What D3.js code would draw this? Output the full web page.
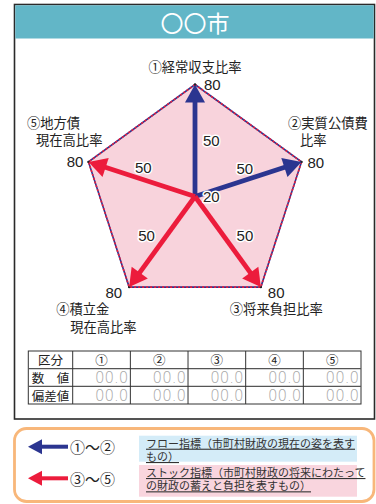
<!DOCTYPE html>
<html>
<head>
<meta charset="utf-8">
<script src="https://cdn.jsdelivr.net/npm/d3@7"></script>
<style>
  body { margin: 0; background: #fff; }
  svg { display: block; }
</style>
</head>
<body>
<div id="chart"></div>
<script>
// chart values
var title = "〇〇市";
var axisLabels = [
    ["①経常収支比率"],
    ["②実質公債費", "比率"],
    ["③将来負担比率"],
    ["④積立金", "現在高比率"],
    ["⑤地方債", "現在高比率"]
];
var values = [80, 80, 80, 80, 80];
var groups = ["flow", "flow", "stock", "stock", "stock"];
var tickValues = [20, 50, 80];

var tableHeader = ["区分", "①", "②", "③", "④", "⑤"];
var tableRowNames = ["数　値", "偏差値"];
var tableRows = [
    ["00.0", "00.0", "00.0", "00.0", "00.0"],
    ["00.0", "00.0", "00.0", "00.0", "00.0"]
];

var legendKeys = ["①～②", "③～⑤"];
var legendTexts = [
    ["フロー指標（市町村財政の現在の姿を表す", "もの）"],
    ["ストック指標（市町村財政の将来にわたって", "の財政の蓄えと負担を表すもの）"]
];

var colors = { flow: "#2b3590", stock: "#ec1c3c" };
var jp = "'Noto Sans CJK JP', 'Noto Sans', sans-serif";
var num = "'Liberation Sans', Arial, sans-serif";

var width = 376, height = 504;
var svg = d3.select("#chart").append("svg")
    .attr("width", width)
    .attr("height", height);

// frame + header
svg.append("rect")
    .attr("x", 14.5).attr("y", 4.5)
    .attr("width", 360).attr("height", 414.5)
    .attr("fill", "#fff")
    .attr("stroke", "#2a2a2a")
    .attr("stroke-width", 1.6);

svg.append("rect")
    .attr("x", 15.3).attr("y", 5.3)
    .attr("width", 358.4).attr("height", 33.2)
    .attr("fill", "#62b6c7");

svg.append("text")
    .attr("x", 195).attr("y", 22)
    .attr("text-anchor", "middle")
    .attr("dominant-baseline", "central")
    .attr("fill", "#fff")
    .style("font-family", jp)
    .style("font-size", "23px")
    .text(title);

// radar
var cx = 195, cy = 196.5;
var r = d3.scaleLinear().domain([20, 80]).range([0, 112]);
var angle = d3.scaleLinear().domain([0, values.length]).range([0, 2 * Math.PI]);

function pt(i, v) {
    var a = angle(i);
    return [cx + r(v) * Math.sin(a), cy - r(v) * Math.cos(a)];
}

var g = svg.append("g");

var radial = d3.lineRadial()
    .angle(function (d, i) { return angle(i); })
    .radius(function (d) { return r(d); })
    .curve(d3.curveLinearClosed);

g.append("path")
    .attr("transform", "translate(" + cx + "," + cy + ")")
    .attr("d", radial(values))
    .attr("fill", "#f8d3dc")
    .attr("stroke", "#2b3590")
    .attr("stroke-width", 1.6);

g.append("path")
    .attr("transform", "translate(" + cx + "," + cy + ")")
    .attr("d", radial(values))
    .attr("fill", "none")
    .attr("stroke", "#ec1c3c")
    .attr("stroke-width", 1.6)
    .attr("stroke-dasharray", "2,2");

// small tick marks at 50 and 80
values.forEach(function (v, i) {
    tickValues.slice(1).forEach(function (t) {
        var p = pt(i, t);
        g.append("circle")
            .attr("cx", p[0]).attr("cy", p[1])
            .attr("r", 1.2)
            .attr("fill", "#222");
    });
});

// arrows
function arrow(sel, x0, y0, x1, y1, color, sw, hl, hw) {
    var dx = x1 - x0, dy = y1 - y0;
    var len = Math.sqrt(dx * dx + dy * dy);
    var ux = dx / len, uy = dy / len;
    var bx = x1 - ux * hl, by = y1 - uy * hl;
    sel.append("line")
        .attr("x1", x0).attr("y1", y0)
        .attr("x2", bx + ux * 2).attr("y2", by + uy * 2)
        .attr("stroke", color)
        .attr("stroke-width", sw);
    sel.append("path")
        .attr("d", "M" + x1 + "," + y1 +
            "L" + (bx - uy * hw) + "," + (by + ux * hw) +
            "L" + (bx + uy * hw) + "," + (by - ux * hw) + "Z")
        .attr("fill", color);
}

["flow", "stock"].forEach(function (grp) {
    values.forEach(function (v, i) {
        if (groups[i] !== grp) return;
        var p = pt(i, v);
        arrow(g, cx, cy, p[0], p[1], colors[grp], 4.8, 18, 10);
    });
});

// value labels: offsets from point [dx, dy, anchor]
var midOffsets = [[8, 0, "start"], [-3.5, -11, "middle"], [17, -6, "middle"], [-15.5, -6, "middle"], [1.5, -12, "middle"]];
var maxOffsets = [[9, 0, "start"], [6, 0.5, "start"], [7, 5, "start"], [-7, 5, "end"], [-5, 0, "end"]];

function valueLabel(x, y, anchor, txt) {
    g.append("text")
        .attr("x", x).attr("y", y)
        .attr("text-anchor", anchor)
        .attr("dominant-baseline", "central")
        .attr("fill", "#222")
        .attr("stroke", "#fff")
        .attr("stroke-width", 3)
        .attr("stroke-linejoin", "round")
        .attr("paint-order", "stroke")
        .style("font-family", num)
        .style("font-size", "15px")
        .text(txt);
}

valueLabel(cx + 8, cy, "start", tickValues[0]);
values.forEach(function (v, i) {
    var m = pt(i, tickValues[1]);
    valueLabel(m[0] + midOffsets[i][0], m[1] + midOffsets[i][1], midOffsets[i][2], tickValues[1]);
    var p = pt(i, tickValues[2]);
    valueLabel(p[0] + maxOffsets[i][0], p[1] + maxOffsets[i][1], maxOffsets[i][2], tickValues[2]);
});

// axis labels: [dx line1, dy line1, anchor, dx line2]
var labelOffsets = [[0, -18, "middle", 0], [-13.5, -39.5, "start", -1.5], [-31, 21.5, "start", 0], [-73, 21.5, "start", -59], [-61.5, -39.5, "start", -52.5]];
axisLabels.forEach(function (lines, i) {
    var p = pt(i, 80);
    var o = labelOffsets[i];
    lines.forEach(function (line, k) {
        g.append("text")
            .attr("x", p[0] + (k === 0 ? o[0] : o[3]))
            .attr("y", p[1] + o[1] + k * 17.5)
            .attr("text-anchor", o[2])
            .attr("dominant-baseline", "central")
            .attr("fill", "#222")
            .style("font-family", jp)
            .style("font-size", "13.3px")
            .text(line);
    });
});

// table
var colX = d3.scaleLinear().domain([0, 5]).range([72.7, 361]);
var rowY = d3.scaleLinear().domain([0, 3]).range([351, 404]);
var tg = svg.append("g");

tg.append("rect")
    .attr("x", 28.3).attr("y", rowY(0))
    .attr("width", 361 - 28.3).attr("height", rowY(3) - rowY(0))
    .attr("fill", "#fff")
    .attr("stroke", "#333")
    .attr("stroke-width", 1);

d3.range(1, 3).forEach(function (k) {
    tg.append("line")
        .attr("x1", 28.3).attr("x2", 361)
        .attr("y1", rowY(k)).attr("y2", rowY(k))
        .attr("stroke", "#555").attr("stroke-width", 1.4);
});
d3.range(0, 5).forEach(function (k) {
    tg.append("line")
        .attr("x1", colX(k)).attr("x2", colX(k))
        .attr("y1", rowY(0)).attr("y2", rowY(3))
        .attr("stroke", "#333").attr("stroke-width", 1);
});

tableHeader.forEach(function (h, k) {
    var x = k === 0 ? (28.3 + 72.7) / 2 : (colX(k - 1) + colX(k)) / 2;
    tg.append("text")
        .attr("x", x).attr("y", (rowY(0) + rowY(1)) / 2)
        .attr("text-anchor", "middle")
        .attr("dominant-baseline", "central")
        .attr("fill", "#222")
        .style("font-family", jp)
        .style("font-size", "12.5px")
        .text(h);
});

tableRowNames.forEach(function (name, j) {
    var y = (rowY(j + 1) + rowY(j + 2)) / 2;
    tg.append("text")
        .attr("x", (28.3 + 72.7) / 2).attr("y", y)
        .attr("text-anchor", "middle")
        .attr("dominant-baseline", "central")
        .attr("fill", "#222")
        .style("font-family", jp)
        .style("font-size", "12.5px")
        .text(name);
    tableRows[j].forEach(function (cell, k) {
        tg.append("text")
            .attr("x", colX(k + 1) - 2).attr("y", y + 0.5)
            .attr("text-anchor", "end")
            .attr("dominant-baseline", "central")
            .attr("fill", "#a8a8a8")
            .style("font-family", "'DejaVu Sans', sans-serif")
            .style("font-weight", "200")
            .style("font-size", "15px")
            .text(cell);
    });
});

// legend
var lg = svg.append("g");
lg.append("rect")
    .attr("x", 14.5).attr("y", 428.5)
    .attr("width", 359.5).attr("height", 73)
    .attr("rx", 12).attr("ry", 12)
    .attr("fill", "#fff")
    .attr("stroke", "#f8b77a")
    .attr("stroke-width", 2.8);

var legendY = d3.scaleLinear().domain([0, 1]).range([446.7, 478.3]);
var boxFills = ["#d4ecf8", "#f9d5de"];
var boxTop = [435.7, 465];
var boxH = [26, 31.7];

["flow", "stock"].forEach(function (grp, k) {
    var y = legendY(k);
    arrow(lg, 68, y, 28, y, colors[grp], 4, 14, 7.5);
    lg.append("text")
        .attr("x", 70).attr("y", y)
        .attr("dominant-baseline", "central")
        .attr("fill", "#222")
        .style("font-family", jp)
        .style("font-size", "15px")
        .text(legendKeys[k]);
    lg.append("rect")
        .attr("x", 139).attr("y", boxTop[k])
        .attr("width", 218).attr("height", boxH[k])
        .attr("fill", boxFills[k]);
    var t = lg.append("text")
        .attr("fill", "#333")
        .attr("text-decoration", "underline")
        .style("text-decoration", "underline")
        .style("font-family", jp)
        .style("font-size", "11px");
    legendTexts[k].forEach(function (line, j) {
        t.append("tspan")
            .attr("x", 146)
            .attr("y", boxTop[k] + 12 + j * 13.3)
            .text(line);
    });
});
</script>
</body>
</html>
